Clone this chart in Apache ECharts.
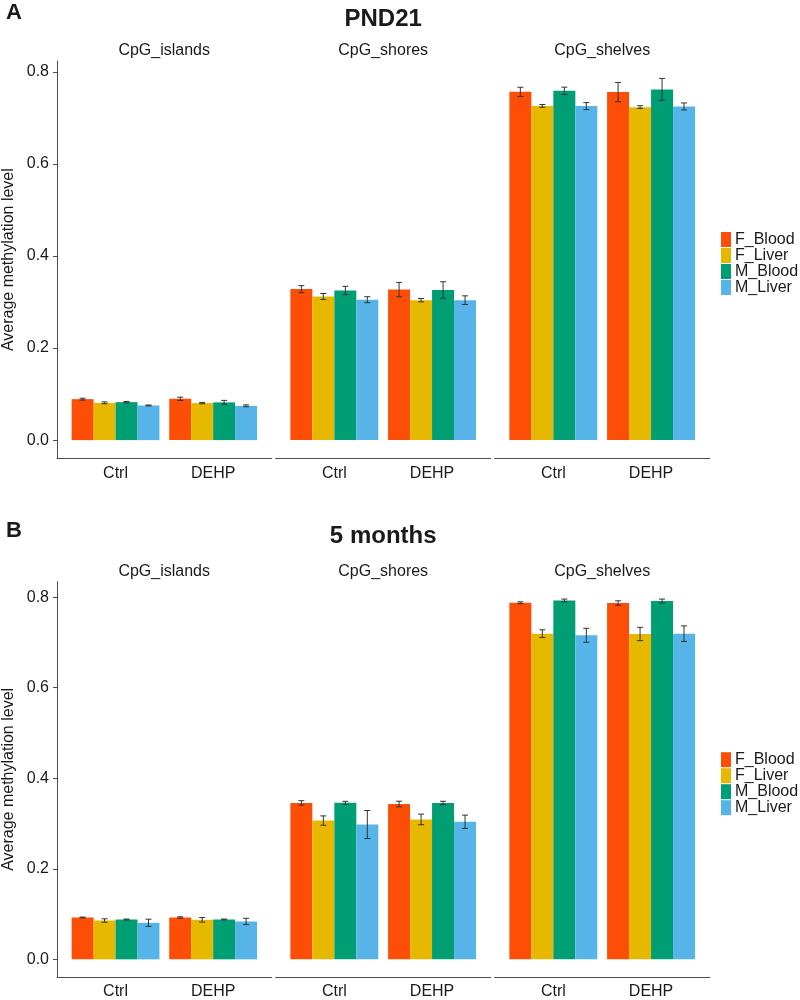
<!DOCTYPE html>
<html><head><meta charset="utf-8">
<script src="https://cdn.jsdelivr.net/npm/echarts@6/dist/echarts.min.js"></script>
<style>html,body{margin:0;padding:0;background:#fff}#c{width:800px;height:1000px}</style>
</head><body><div id="c"></div>
<script>
// ---------- data ----------
const groups = ['Ctrl', 'DEHP'];
const facets = ['CpG_islands', 'CpG_shores', 'CpG_shelves'];
const tissues = ['F_Blood', 'F_Liver', 'M_Blood', 'M_Liver'];
const panelTitles = ['PND21', '5 months'];
const panelLetters = ['A', 'B'];
const yTicks = [0, 0.2, 0.4, 0.6, 0.8];
const yAxisTitle = 'Average methylation level';

// order: islands Ctrl, islands DEHP, shores Ctrl, shores DEHP, shelves Ctrl, shelves DEHP
const pnd21_F_Blood = [0.0890, 0.0897, 0.328, 0.327, 0.7565, 0.7559];
const pnd21_F_Liver = [0.0810, 0.0804, 0.312, 0.304, 0.7260, 0.7233];
const pnd21_M_Blood = [0.0825, 0.0820, 0.325, 0.326, 0.7587, 0.7617];
const pnd21_M_Liver = [0.0753, 0.0745, 0.305, 0.304, 0.7255, 0.7248];
const pnd21_F_Blood_se = [0.0020, 0.0036, 0.0076, 0.0156, 0.0100, 0.0210];
const pnd21_F_Liver_se = [0.0020, 0.0015, 0.0065, 0.0036, 0.0030, 0.0030];
const pnd21_M_Blood_se = [0.0015, 0.0043, 0.0090, 0.0180, 0.0080, 0.0240];
const pnd21_M_Liver_se = [0.0010, 0.0020, 0.0065, 0.0094, 0.0076, 0.0076];

const m5_F_Blood = [0.0924, 0.0924, 0.3454, 0.3430, 0.7875, 0.7868];
const m5_F_Liver = [0.0858, 0.0873, 0.3065, 0.3090, 0.7193, 0.7186];
const m5_M_Blood = [0.0880, 0.0880, 0.3456, 0.3454, 0.7926, 0.7912];
const m5_M_Liver = [0.0807, 0.0836, 0.2977, 0.3038, 0.7156, 0.7193];
const m5_F_Blood_se = [0.0010, 0.0015, 0.0050, 0.0062, 0.0020, 0.0050];
const m5_F_Liver_se = [0.0037, 0.0050, 0.0103, 0.0117, 0.0084, 0.0147];
const m5_M_Blood_se = [0.0010, 0.0010, 0.0033, 0.0037, 0.0030, 0.0044];
const m5_M_Liver_se = [0.0080, 0.0070, 0.0310, 0.0147, 0.0154, 0.0172];

const means = [
  [pnd21_F_Blood, pnd21_F_Liver, pnd21_M_Blood, pnd21_M_Liver],
  [m5_F_Blood, m5_F_Liver, m5_M_Blood, m5_M_Liver]
];
const ses = [
  [pnd21_F_Blood_se, pnd21_F_Liver_se, pnd21_M_Blood_se, pnd21_M_Liver_se],
  [m5_F_Blood_se, m5_F_Liver_se, m5_M_Blood_se, m5_M_Liver_se]
];

// ---------- style / layout ----------
const colors = ['#FC4E07', '#E7B800', '#009E73', '#56B4E9'];
const FONT = '"Liberation Sans", Arial, Helvetica, sans-serif';
const TXT = '#1a1a1a';
const AXC = '#4d4d4d';
const panelLeft = 56.7, panelW = 215, panelGap = 4;
const gridTop = [61, 581.7], gridH = [397.3, 396.7];
const yMin = [-0.0395, -0.039], yMax = [0.8235, 0.834];
const xMin = 0.4, xMax = 2.6;
const barFrac = 0.225; // fraction of one category unit per bar (0.9 / 4)

const grid = [], xAxis = [], yAxis = [], series = [], graphic = [];

function renderErr(params, api) {
  const x = api.value(0), lo = api.value(1), hi = api.value(2);
  const a = api.coord([x, lo]), b = api.coord([x, hi]);
  const hw = 3;
  const st = { stroke: '#333', lineWidth: 1 };
  return {
    type: 'group', children: [
      { type: 'line', shape: { x1: a[0], y1: a[1], x2: b[0], y2: b[1] }, style: st },
      { type: 'line', shape: { x1: a[0] - hw, y1: a[1], x2: a[0] + hw, y2: a[1] }, style: st },
      { type: 'line', shape: { x1: b[0] - hw, y1: b[1], x2: b[0] + hw, y2: b[1] }, style: st }
    ]
  };
}

for (let p = 0; p < 2; p++) {
  for (let f = 0; f < 3; f++) {
    const gi = p * 3 + f;
    const left = panelLeft + f * (panelW + panelGap);
    grid.push({ left: left, top: gridTop[p], width: panelW, height: gridH[p] });
    xAxis.push({
      type: 'value', gridIndex: gi, min: xMin, max: xMax,
      axisLine: { show: true, onZero: false, lineStyle: { color: AXC, width: 1 } },
      axisTick: { show: false },
      splitLine: { show: false },
      axisLabel: {
        customValues: [1, 2], margin: 7, fontSize: 16, color: TXT, fontFamily: FONT,
        formatter: v => groups[Math.round(v) - 1]
      }
    });
    yAxis.push({
      type: 'value', gridIndex: gi, min: yMin[p], max: yMax[p], show: f === 0,
      axisLine: { show: true, onZero: false, lineStyle: { color: AXC, width: 1 } },
      axisTick: { show: true, length: 4, customValues: yTicks, lineStyle: { color: AXC } },
      splitLine: { show: false },
      axisLabel: {
        customValues: yTicks, margin: 8, fontSize: 16, color: TXT, fontFamily: FONT,
        formatter: v => v.toFixed(1)
      },
      name: f === 0 ? yAxisTitle : '', nameLocation: 'middle', nameGap: 40, nameRotate: 90,
      nameTextStyle: { fontSize: 16, color: TXT, fontFamily: FONT }
    });
    const errData = [];
    for (let k = 0; k < 4; k++) {
      series.push({
        type: 'bar', name: tissues[k], xAxisIndex: gi, yAxisIndex: gi,
        barWidth: (barFrac * 100) + '%', barGap: '0%',
        itemStyle: { color: colors[k] },
        data: groups.map((g, j) => [j + 1, means[p][k][f * 2 + j]]),
        animation: false
      });
      groups.forEach((g, j) => {
        const m = means[p][k][f * 2 + j], s = ses[p][k][f * 2 + j];
        errData.push([j + 1 + (k - 1.5) * barFrac, m - s, m + s]);
      });
    }
    series.push({
      type: 'custom', name: 'err', xAxisIndex: gi, yAxisIndex: gi, z: 5,
      renderItem: renderErr, encode: { x: 0, y: [1, 2] }, data: errData, animation: false, silent: true
    });
    // strip labels
    graphic.push({
      type: 'text', x: left + panelW / 2, y: gridTop[p] - 10,
      style: { text: facets[f], fill: TXT, font: '16px ' + FONT, textAlign: 'center', textVerticalAlign: 'middle' }
    });
  }
}

const centerX = panelLeft + (3 * panelW + 2 * panelGap) / 2;
const titleY = [19, 536];
const letterY = [13, 531];
for (let p = 0; p < 2; p++) {
  graphic.push({
    type: 'text', x: centerX, y: titleY[p],
    style: { text: panelTitles[p], fill: TXT, font: 'bold 24px ' + FONT, textAlign: 'center', textVerticalAlign: 'middle' }
  });
  graphic.push({
    type: 'text', x: 6, y: letterY[p],
    style: { text: panelLetters[p], fill: TXT, font: 'bold 22px ' + FONT, textAlign: 'left', textVerticalAlign: 'middle' }
  });
}

const legendTop = [231.5, 751.7];
const legend = legendTop.map(t => ({
  data: tissues, orient: 'vertical', left: 721, top: t, padding: 0,
  icon: 'rect', itemWidth: 10, itemHeight: 15, itemGap: 0,
  textStyle: { fontSize: 16, lineHeight: 15, color: TXT, fontFamily: FONT, padding: [0, 0, 0, -1] }
}));

const chart = echarts.init(document.getElementById('c'), null, { renderer: 'canvas' });
chart.setOption({
  backgroundColor: '#fff',
  animation: false,
  grid, xAxis, yAxis, series, legend, graphic
});
</script>
</body></html>
